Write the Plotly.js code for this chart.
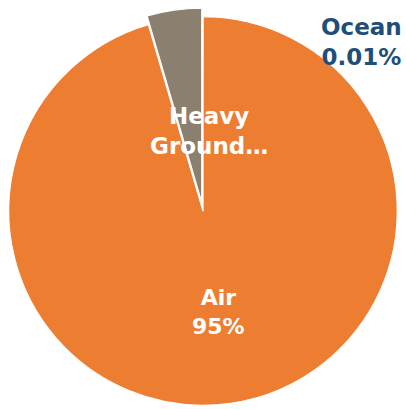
<!DOCTYPE html>
<html><head><meta charset="utf-8">
<script src="https://cdn.plot.ly/plotly-3.0.1.min.js"></script>
<style>html,body{margin:0;padding:0;overflow:hidden;background:#fff}#chart{width:406px;height:422px}</style>
</head><body><div id="chart"></div>
<script>
// Data
const categories = ["Ocean", "Air", "Heavy Ground…"];
const shares = [0.01, 95.45, 4.54];
const shareLabels = ["0.01%", "95%", ""];
const labelLines = [["Ocean", "0.01%"], ["Air", "95%"], ["Heavy", "Ground…"]];

// Styling
const sliceColors = ["#1F4E79", "#ED7D31", "#8B8070"];
const pulls = [0, 0, 0.045];
const labelPos = [
  {x: 361, y: 42, color: "#1F4E79", size: 23},
  {x: 218, y: 312, color: "#FFFFFF", size: 22},
  {x: 209, y: 131, color: "#FFFFFF", size: 23}
];
const W = 406, H = 422;

const trace = {
  type: "pie",
  labels: categories,
  values: shares,
  sort: false,
  direction: "clockwise",
  rotation: 0,
  pull: pulls,
  marker: {colors: sliceColors, line: {color: "#FFFFFF", width: 1.2}},
  textinfo: "none",
  hoverinfo: "label+percent",
  showlegend: false,
  domain: {x: [0, 1], y: [0, 1]}
};

const annotations = labelLines.map((lines, i) => ({
  xref: "paper", yref: "paper",
  x: labelPos[i].x / W, y: 1 - labelPos[i].y / H,
  xanchor: "center", yanchor: "middle",
  text: lines.join("<br>"),
  showarrow: false,
  align: "center",
  font: {family: "DejaVu Sans", size: labelPos[i].size, weight: "bold", color: labelPos[i].color}
}));

const layout = {
  width: W, height: H,
  margin: {l: 0, r: 0, t: 0, b: 0, pad: 0},
  paper_bgcolor: "#FFFFFF",
  showlegend: false,
  annotations: annotations
};

Plotly.newPlot("chart", [trace], layout, {displayModeBar: false, staticPlot: true});
</script>
</body></html>
